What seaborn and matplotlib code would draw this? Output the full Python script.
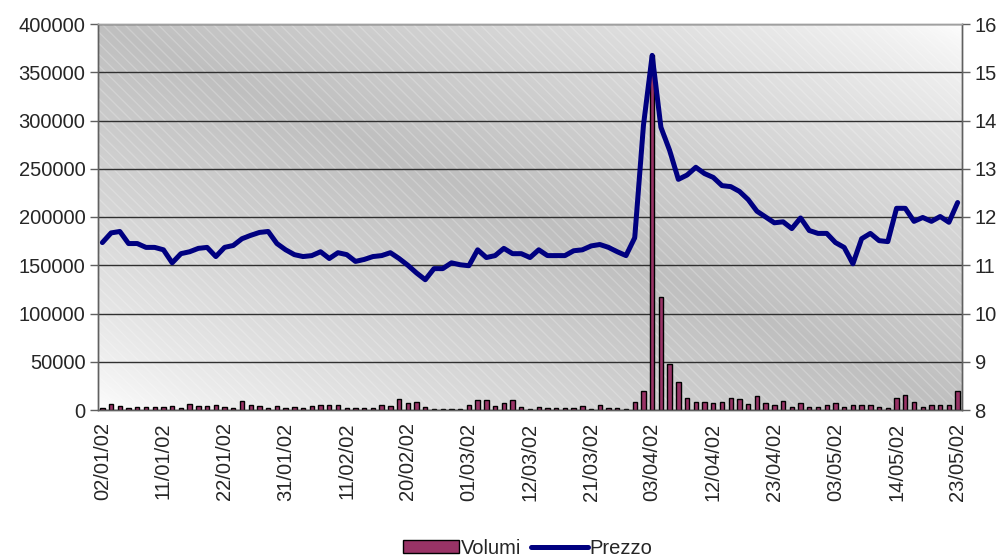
import numpy as np
import pandas as pd
import matplotlib
matplotlib.use("Agg")
import matplotlib.pyplot as plt
import seaborn as sns
from matplotlib.patches import Rectangle, Patch
from matplotlib.lines import Line2D

# ---------------- data ----------------
tick_labels = ['02/01/02', '11/01/02', '22/01/02', '31/01/02', '11/02/02',
               '20/02/02', '01/03/02', '12/03/02', '21/03/02', '03/04/02',
               '12/04/02', '23/04/02', '03/05/02', '14/05/02', '23/05/02']

volumi = [2000, 6000, 4500, 2000, 3000, 3500, 3500, 3500, 4000, 2000,
          6500, 4000, 4000, 5000, 3000, 2000, 9000, 5000, 4500, 2500,
          4000, 2500, 3500, 2000, 4000, 5000, 5000, 5000, 2000, 2000,
          2000, 2000, 5000, 4000, 11000, 7500, 8000, 3000, 1500, 1500,
          1500, 1500, 5000, 10000, 10000, 4000, 7500, 10500, 3000, 1500,
          3000, 2000, 2000, 2000, 2000, 4000, 1500, 5000, 2500, 2000,
          1500, 8000, 19500, 368000, 117000, 48000, 28500, 12500, 8500, 8500,
          7000, 8700, 12000, 11000, 6000, 14000, 7500, 5000, 9500, 3500,
          7000, 2800, 2800, 5000, 7000, 2800, 5000, 5000, 5000, 3500,
          1800, 12800, 15500, 8700, 2800, 5000, 5000, 5000, 19700]

prezzo = [11.47, 11.67, 11.70, 11.45, 11.45, 11.37, 11.37, 11.32, 11.05, 11.24,
          11.28, 11.35, 11.37, 11.18, 11.37, 11.41, 11.55, 11.62, 11.68, 11.70,
          11.45, 11.32, 11.22, 11.18, 11.20, 11.28, 11.14, 11.26, 11.22, 11.08,
          11.12, 11.18, 11.20, 11.26, 11.14, 11.00, 10.84, 10.70, 10.93, 10.93,
          11.05, 11.01, 10.99, 11.32, 11.16, 11.20, 11.35, 11.24, 11.24, 11.16,
          11.32, 11.20, 11.20, 11.20, 11.30, 11.32, 11.40, 11.43, 11.37, 11.28,
          11.20, 11.57, 13.90, 15.35, 13.86, 13.38, 12.78, 12.87, 13.03, 12.90,
          12.82, 12.65, 12.63, 12.53, 12.36, 12.12, 12.00, 11.88, 11.90, 11.76,
          11.98, 11.72, 11.66, 11.66, 11.47, 11.37, 11.03, 11.55, 11.66, 11.51,
          11.49, 12.18, 12.18, 11.91, 11.99, 11.91, 12.01, 11.89, 12.30]

idx = list(range(len(volumi)))
df = pd.DataFrame({"idx": idx, "Volumi": volumi, "Prezzo": prezzo})

BAR_COLOR = "#993366"
LINE_COLOR = "#000080"
FS = 14.5

sns.set_theme(style="white")
plt.rcParams['font.family'] = ['Liberation Sans', 'DejaVu Sans']

fig = plt.figure(figsize=(10.05, 5.6), dpi=100)
ax = fig.add_axes([98 / 1005, 1 - 410 / 560, 864 / 1005, 386 / 560])

# gradient background
n = 300
u = np.linspace(0, 1, n)
v = np.linspace(1, 0, n)
U, V = np.meshgrid(u, v)
t = (U + V) / 2.0
w = 1 - np.abs(2 * t - 1)
light, dark = 1.0, 0.75
g = light - (light - dark) * w ** 0.7
img = np.dstack([g, g, g])
ax.imshow(img, extent=[0, 1, 0, 1], transform=ax.transAxes, aspect='auto',
          zorder=0, interpolation='bilinear')
ax.add_patch(Rectangle((0, 0), 1, 1, transform=ax.transAxes, facecolor='none',
                       edgecolor=(1, 1, 1, 0.22), hatch='\\\\\\', linewidth=0,
                       zorder=0.5))

sns.barplot(data=df, x="idx", y="Volumi", ax=ax, color=BAR_COLOR,
            edgecolor="black", linewidth=1.0, width=0.5, saturation=1,
            zorder=3)
ax.set_xlim(-0.5, len(volumi) - 0.5)
ax.set_ylim(0, 400000)
ax.set_yticks(np.arange(0, 400001, 50000))
ax.set_yticklabels([str(int(x)) for x in np.arange(0, 400001, 50000)], fontsize=FS)
ax.yaxis.grid(True, color="#303030", linewidth=1.0, zorder=1)
ax.set_axisbelow(True)
ax.set_xticks(range(0, len(volumi), 7))
ax.set_xticklabels(tick_labels, rotation=90, fontsize=FS)
ax.tick_params(axis='x', length=0, pad=9)
ax.tick_params(axis='y', length=6, width=1, color="#606060", direction='out',
               left=True, pad=3)
ax.set_xlabel("")
ax.set_ylabel("")

ax2 = ax.twinx()
sns.lineplot(data=df, x="idx", y="Prezzo", ax=ax2, color=LINE_COLOR,
             linewidth=3.6, zorder=4)
ax2.set_ylim(8, 16)
ax2.set_yticks(range(8, 17))
ax2.set_yticklabels([str(x) for x in range(8, 17)], fontsize=FS)
ax2.tick_params(axis='y', length=6, width=1, color="#606060", direction='out',
                right=True, pad=3)
ax2.set_ylabel("")
ax2.set_xlim(-0.5, len(volumi) - 0.5)

for a in (ax, ax2):
    for s in a.spines.values():
        s.set_color("#606060")
        s.set_linewidth(1.0)
ax.spines['top'].set_color("#a0a0a0")
ax2.spines['top'].set_color("#a0a0a0")

handles = [Patch(facecolor=BAR_COLOR, edgecolor='black', linewidth=1.0),
           Line2D([0], [0], color=LINE_COLOR, linewidth=3.6)]
fig.legend(handles, ["Volumi", "Prezzo"], loc='center',
           bbox_to_anchor=(0.525, 1 - 548 / 560), ncol=2, frameon=False,
           fontsize=FS, handlelength=2.8, handleheight=0.6,
           handletextpad=0.1, columnspacing=0.5, borderpad=0)

fig.savefig("out.png", dpi=100)
